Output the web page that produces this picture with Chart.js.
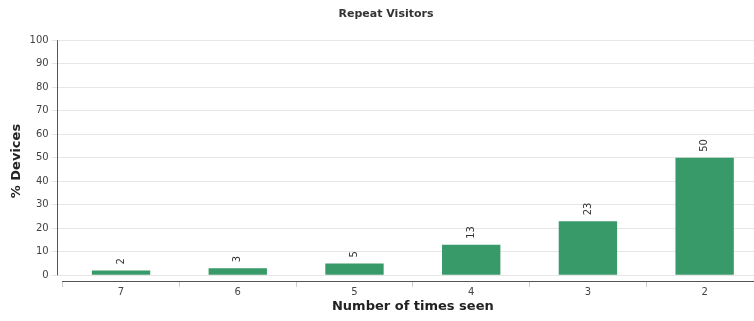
<!DOCTYPE html>
<html>
<head>
<meta charset="utf-8">
<title>Repeat Visitors</title>
<script src="https://cdn.jsdelivr.net/npm/chart.js@4.4.1/dist/chart.umd.min.js"></script>
<style>
    html, body { margin: 0; padding: 0; overflow: hidden; background: #fff; }
    #wrap { width: 763px; height: 321px; }
</style>
</head>
<body>
<div id="wrap"><canvas id="chart" width="763" height="321"></canvas></div>
<script>
var categories = ['7', '6', '5', '4', '3', '2'];
var devicePercent = [2, 3, 5, 13, 23, 50];
var yTicks = [0, 10, 20, 30, 40, 50, 60, 70, 80, 90, 100];
var chartTitle = 'Repeat Visitors';
var xTitle = 'Number of times seen';
var yTitle = '% Devices';

var fontFamily = '"DejaVu Sans", "Liberation Sans", sans-serif';
var barColor = '#389a68';

// value labels above each bar, turned on their side like the original
var valueLabels = {
    id: 'valueLabels',
    afterDatasetsDraw: function(chart){
        var ctx = chart.ctx;
        var meta = chart.getDatasetMeta(0);
        ctx.save();
        ctx.font = '10px ' + fontFamily;
        ctx.fillStyle = '#333';
        ctx.textAlign = 'left';
        ctx.textBaseline = 'middle';
        meta.data.forEach(function(bar, i){
            ctx.save();
            ctx.translate(bar.x, bar.y - 6);
            ctx.rotate(-Math.PI / 2);
            ctx.fillText(String(devicePercent[i]), 0, 0);
            ctx.restore();
        });
        ctx.restore();
    }
};

// the vertical axis line sits a little left of the plot, stopping at zero
var yAxisLine = {
    id: 'yAxisLine',
    afterDraw: function(chart){
        var ctx = chart.ctx;
        var y = chart.scales.y;
        var x = Math.round(chart.chartArea.left - 5.5) + 0.5;
        ctx.save();
        ctx.strokeStyle = '#555';
        ctx.lineWidth = 1;
        ctx.beginPath();
        ctx.moveTo(x, y.getPixelForValue(yTicks[yTicks.length - 1]));
        ctx.lineTo(x, y.getPixelForValue(0));
        ctx.stroke();
        ctx.restore();
    }
};

new Chart(document.getElementById('chart'), {
    type: 'bar',
    data: {
        labels: categories,
        datasets: [{
            data: devicePercent,
            base: 0,
            backgroundColor: barColor,
            borderWidth: 0,
            categoryPercentage: 1,
            barPercentage: 0.5
        }]
    },
    options: {
        responsive: false,
        animation: false,
        layout: { padding: { left: 9, right: 0, top: 0, bottom: 0 } },
        plugins: {
            legend: { display: false },
            tooltip: { enabled: false },
            title: {
                display: true,
                text: chartTitle,
                color: '#333',
                font: { family: fontFamily, size: 11, weight: 'bold' },
                padding: { top: 8, bottom: 19 }
            }
        },
        scales: {
            x: {
                offset: true,
                grid: {
                    offset: true,
                    drawOnChartArea: false,
                    drawTicks: true,
                    tickLength: 5,
                    color: '#ccc'
                },
                border: { display: true, color: '#555', width: 1 },
                ticks: {
                    color: '#444',
                    padding: 0,
                    maxRotation: 0,
                    font: { family: fontFamily, size: 10 }
                },
                title: {
                    display: true,
                    text: xTitle,
                    color: '#222',
                    font: { family: fontFamily, size: 13, weight: 'bold' },
                    padding: { top: 0, bottom: 6.5 }
                }
            },
            y: {
                min: -2.8,
                max: 100,
                afterBuildTicks: function(scale){
                    scale.ticks = yTicks.map(function(v){ return { value: v }; });
                },
                grid: {
                    color: '#e6e6e6',
                    tickLength: 11
                },
                border: { display: false },
                ticks: {
                    color: '#444',
                    padding: 3,
                    font: { family: fontFamily, size: 10 }
                },
                title: {
                    display: true,
                    text: yTitle,
                    color: '#222',
                    font: { family: fontFamily, size: 13, weight: 'bold' },
                    padding: { top: 0, bottom: 2 }
                }
            }
        }
    },
    plugins: [valueLabels, yAxisLine]
});
</script>
</body>
</html>
